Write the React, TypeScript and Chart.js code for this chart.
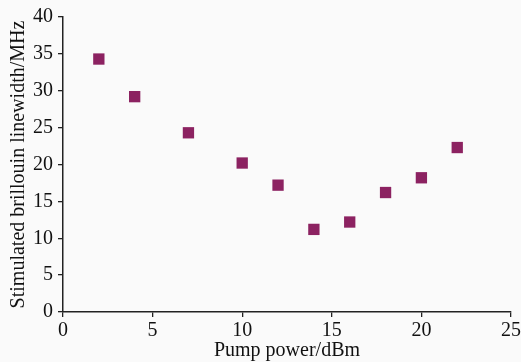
import React, { useEffect, useRef } from "react";
import { Chart, registerables } from "chart.js";

Chart.register(...registerables);

const pumpPower = [2, 4, 7, 10, 12, 14, 16, 18, 20, 22];
const linewidth = [34.3, 29.2, 24.3, 20.2, 17.2, 11.2, 12.2, 16.2, 18.2, 22.3];
const xTicks = [0, 5, 10, 15, 20, 25];
const yTicks = [0, 5, 10, 15, 20, 25, 30, 35, 40];

const FONT = "'Liberation Serif', 'Times New Roman', serif";

export default function App() {
  const ref = useRef<HTMLCanvasElement | null>(null);

  useEffect(() => {
    document.body.style.margin = "0";
    const canvas = ref.current!;
    const bg = {
      id: "bg",
      beforeDraw(chart: any) {
        const ctx = chart.ctx;
        ctx.save();
        ctx.fillStyle = "#ffffff";
        ctx.fillRect(0, 0, chart.width, chart.height);
        ctx.fillStyle = "#fafafa";
        ctx.fillRect(0, 0, 521, 362);
        ctx.restore();
      },
    };
    const chart = new Chart(canvas, {
      type: "scatter",
      data: {
        datasets: [
          {
            data: pumpPower.map((x, i) => ({ x, y: linewidth[i] })),
            pointStyle: "rect",
            pointRadius: 8,
            pointHoverRadius: 8,
            backgroundColor: "#8c2261",
            borderColor: "#8c2261",
            borderWidth: 0,
          },
        ],
      },
      options: {
        animation: false,
        responsive: false,
        devicePixelRatio: 1,
        layout: { padding: { top: 15, right: 20, left: 0, bottom: 0 } },
        plugins: { legend: { display: false }, tooltip: { enabled: false } },
        scales: {
          x: {
            type: "linear",
            min: 0,
            max: 25,
            afterBuildTicks: (s: any) => {
              s.ticks = xTicks.map((v) => ({ value: v }));
            },
            afterFit: (s: any) => {
              s.height = 52;
            },
            grid: { display: true, drawOnChartArea: false, drawTicks: true, tickLength: 5, color: "#222", lineWidth: 1.3 },
            border: { display: true, color: "#222", width: 1.5 },
            ticks: { color: "#111", font: { family: FONT, size: 20 }, padding: 2, maxRotation: 0 },
            title: { display: true, text: "Pump power/dBm", color: "#111", font: { family: FONT, size: 20 }, padding: { top: 0, bottom: 1.5 } },
          },
          y: {
            type: "linear",
            min: 0,
            max: 40,
            afterBuildTicks: (s: any) => {
              s.ticks = yTicks.map((v) => ({ value: v }));
            },
            afterFit: (s: any) => {
              s.width = 63;
            },
            grid: { display: true, drawOnChartArea: false, drawTicks: true, tickLength: 5, color: "#222", lineWidth: 1.3 },
            border: { display: true, color: "#222", width: 1.5 },
            ticks: { color: "#111", font: { family: FONT, size: 20 }, padding: 5 },
            title: { display: true, text: "Stimulated brillouin linewidth/MHz", color: "#111", font: { family: FONT, size: 20 }, padding: { top: 7, bottom: 0 } },
          },
        },
      },
      plugins: [bg],
    });
    return () => chart.destroy();
  }, []);

  return (
    <div style={{ position: "absolute", left: 0, top: 0, width: 531, height: 364 }}>
      <canvas ref={ref} width={531} height={364} style={{ width: 531, height: 364 }} />
    </div>
  );
}
